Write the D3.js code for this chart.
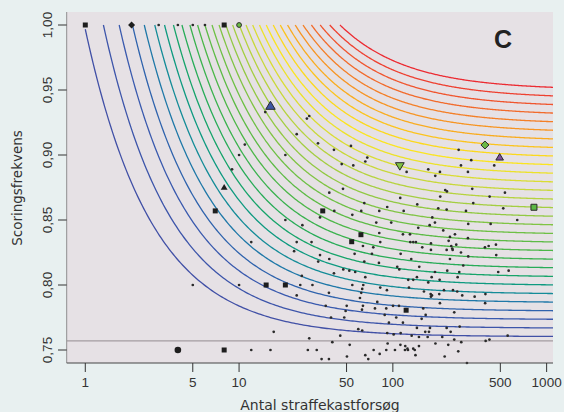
<!DOCTYPE html>
<html><head><meta charset="utf-8">
<script src="https://cdn.jsdelivr.net/npm/d3@7"></script>
<style>body{margin:0;background:#e8f0f0;}svg{display:block;}</style>
</head><body><svg id="c" width="564" height="412"></svg>
<script>
// ---------- data ----------
const xTicks = [1, 5, 10, 50, 100, 500, 1000];
const yTicks = [0.75, 0.80, 0.85, 0.90, 0.95, 1.00];
const leagueAverage = 0.757;
const panelLabel = "C";
const xTitle = "Antal straffekastforsøg";
const yTitle = "Scoringsfrekvens";
// prior (Beta) used by the iso-lines of shrunken scoring rate
const priorA = 7.89, priorB = 2.80;
// shrunken-rate level of each iso-line (read from the asymptotes)
const curveLevels = [0.7602, 0.7667, 0.7733, 0.7798, 0.7864, 0.7929, 0.7995, 0.8060, 0.8126, 0.8191,
  0.8257, 0.8322, 0.8387, 0.8453, 0.8518, 0.8584, 0.8649, 0.8715, 0.8780, 0.8846,
  0.8911, 0.8977, 0.9042, 0.9107, 0.9173, 0.9238, 0.9304, 0.9369, 0.9435, 0.9500];
const curveColors = ["#4150a6", "#3d55aa", "#3a5aae", "#2f63ad", "#1f78a8", "#148c98", "#0e9a80", "#16a46a", "#28ac58", "#3ab24e",
  "#4cb748", "#5dbb46", "#6ec045", "#80c444", "#92c943", "#a4ce41", "#b6d33e", "#c8d83a", "#dadd33", "#ece22a",
  "#fbe51f", "#fcd91c", "#fcc41d", "#f9ac1f", "#f79523", "#f47f27", "#f26a2b", "#f0552e", "#ee4030", "#ec2b32"];
// players: [attempts, scoring rate]
const playerDots = [
  [3,1],[4,1],[5,1],[6,1],
  [14.8,0.933],[28.6,0.930],[27.6,0.928],[23.7,0.916],[10.9,0.908],[32.6,0.909],[53.4,0.907],[41.4,0.904],[10,0.9],[20,0.9],[68.2,0.898],[66.2,0.895],[46.5,0.893],[55.3,0.892],[9,0.889],[47.4,0.874],[38.6,0.871],[65.2,0.863],[41.6,0.857],[62.3,0.857],[81.6,0.857],[33.6,0.852],[54.5,0.854],[78.0,0.848],[20,0.85],[25.8,0.846],[81.6,0.840],[63.9,0.830],[74.6,0.829],[12,0.833],[23.7,0.833],[29.6,0.833],[22.8,0.826],[56.4,0.824],[73.1,0.824],[33.6,0.823],[38.6,0.820],[32.7,0.818],[65.2,0.818],[81.2,0.817],[47.6,0.812],
  [267.8,0.904],[323.4,0.896],[277.3,0.892],[456.3,0.892],[122.9,0.887],[169.9,0.889],[202.4,0.887],[188.7,0.884],[307.8,0.887],[219.1,0.873],[224.8,0.872],[328.3,0.874],[535.7,0.871],[203.3,0.868],[111.7,0.867],[426,0.868],[144.1,0.862],[333.3,0.863],[91.9,0.860],[197.3,0.859],[223.8,0.858],[117.6,0.857],[298.8,0.857],[522.3,0.859],[180.4,0.852],[187.8,0.848],[97.6,0.848],[173.5,0.846],[309.2,0.847],[432.4,0.847],[643.9,0.850],[146.3,0.844],[212.7,0.842],[116.3,0.839],[129.2,0.839],[253.4,0.839],[235.1,0.837],[307.8,0.836],[230.6,0.834],[129.8,0.833],[135.7,0.833],[141.3,0.833],[176.9,0.832],[82.8,0.833],[258.4,0.831],[239.7,0.830],[155.3,0.829],[243.3,0.828],[223.8,0.827],[468.1,0.831],[419.7,0.830],[397.1,0.829],[176.9,0.827],[277.3,0.825],[244.8,0.827],[112.4,0.824],[309.2,0.822],[470.2,0.823],[131.7,0.820],[235.1,0.820],[148.5,0.814],[106.8,0.814],[110.1,0.812],[286.9,0.815],[566.2,0.811],[484.4,0.810],
  [5,0.8],[10,0.8],[25,0.8],[30,0.8],[25.6,0.807],[23.7,0.792],[16.8,0.764],[28.6,0.759],[12,0.75],[16,0.75],[28,0.75],[32,0.75],
  [41.4,0.809],[52.1,0.811],[56.9,0.810],[66.2,0.806],[54.5,0.800],[64.2,0.800],[63.2,0.797],[62.3,0.794],[61.1,0.790],[38.4,0.794],[79.2,0.787],[63.9,0.784],[36.6,0.784],[50.1,0.784],[63.0,0.781],[76.5,0.782],[49.3,0.780],[48.3,0.775],[39.6,0.775],[59.6,0.766],[63.2,0.765],[45.5,0.761],[40.4,0.756],[52.4,0.754],[75,0.75],[66.2,0.746],[69.2,0.743],[50.3,0.745],[82.1,0.747],[38.4,0.743],[34.4,0.743],
  [82.8,0.798],[91.5,0.796],[100.2,0.784],[109.6,0.784],[90.6,0.782],[88.5,0.777],[105.2,0.775],[94.3,0.771],[116.3,0.771],[91.9,0.763],[101.2,0.762],[112.4,0.763],[132.5,0.761],[147.8,0.760],[162.4,0.764],[171.7,0.764],[168.4,0.760],[143.4,0.767],[174.3,0.767],[223.8,0.767],[237.6,0.764],[272.0,0.768],[209.5,0.760],[250.7,0.758],[278.5,0.756],[163.4,0.777],[153.9,0.774],[250.7,0.779],[157.6,0.782],[202.4,0.786],[127.3,0.798],[159.3,0.795],[176.1,0.793],[179.6,0.792],[176.9,0.791],[200.3,0.793],[214.9,0.796],[246.0,0.796],[262.2,0.795],[282.6,0.792],[340.3,0.791],[125.9,0.804],[135.7,0.804],[143.4,0.806],[178.8,0.806],[169.9,0.802],[201.5,0.804],[263.8,0.806],[187.8,0.810],[225.8,0.811],[270.3,0.810],
  [92.5,0.755],[112,0.754],[120.4,0.753],[124.4,0.751],[119.9,0.750],[125.4,0.750],[135.7,0.751],[138.8,0.750],[147.8,0.753],[90.6,0.750],[103.2,0.750],[140.3,0.746],[189.2,0.755],[229.2,0.754],[266.2,0.749],[217.2,0.745],[303.3,0.740],
  [400,0.793],[398.2,0.786],[557.8,0.761],[424.7,0.758],[401.2,0.757]
];
// highlighted players
const markerN     = [1, 2, 8, 10, 16, 8, 7, 35, 62, 54, 15, 20, 8, 122, 4, 397, 495, 111, 827];
const markerP     = [1, 1, 1, 1, 0.9375, 0.875, 0.857, 0.857, 0.8387, 0.8333, 0.8, 0.8, 0.75, 0.7806, 0.75, 0.9077, 0.898, 0.8919, 0.8598];
const markerShape = ["square","diamond","square","circle","triangle","triangle","square","square","square","square","square","square","square","square","circle","diamond","triangle","triangleDown","square"];
const markerFill  = ["#1e1e1e","#1e1e1e","#1e1e1e","#6cbd45","#3f55a5","#1e1e1e","#1e1e1e","#1e1e1e","#1e1e1e","#1e1e1e","#1e1e1e","#1e1e1e","#1e1e1e","#1e1e1e","#1e1e1e","#6ab945","#7d4f9e","#80c342","#5cb846"];
const markerSize  = [5, 7, 5, 4.8, 9.5, 6.8, 5, 5, 5, 5, 5, 5, 5, 5, 6.6, 8, 7.6, 8.8, 6];

// ---------- layout ----------
const svg = d3.select("#c");
const L = 66.7, R = 553, T = 12, B = 363;
const x = d3.scaleLog().domain([0.757, 1100]).range([L, R]);
const y = d3.scaleLinear().domain([0.74, 1.01]).range([B, T]);

svg.append("rect").attr("width", 564).attr("height", 412).attr("fill", "#e8f0f0");
svg.append("rect").attr("x", L).attr("y", T).attr("width", R - L).attr("height", B - T).attr("fill", "#e6e1e5");
svg.append("clipPath").attr("id", "clip").append("rect")
  .attr("x", L).attr("y", T).attr("width", R - L).attr("height", B - T);
const plot = svg.append("g").attr("clip-path", "url(#clip)");

// iso-lines
const line = d3.line().x(d => x(d[0])).y(d => y(d[1]));
curveLevels.forEach((M, i) => {
  const c = M * (priorA + priorB) - priorA;
  const n0 = Math.max(1, c / (1 - M));
  const pts = d3.range(0, 241).map(k => {
    const n = n0 * Math.pow(1100 / n0, k / 240);
    return [n, Math.min(1, M + c / n)];
  });
  plot.append("path").attr("d", line(pts)).attr("fill", "none")
    .attr("stroke", curveColors[i]).attr("stroke-width", 1.3);
});

// league average
plot.append("line").attr("x1", L).attr("x2", R)
  .attr("y1", y(leagueAverage)).attr("y2", y(leagueAverage))
  .attr("stroke", "#a39ca1").attr("stroke-width", 1.2);

// dots
svg.append("g").selectAll("circle").data(playerDots).join("circle")
  .attr("cx", d => x(d[0])).attr("cy", d => y(d[1])).attr("r", 1.35)
  .attr("fill", "#2a2a2a");

// highlighted markers
function shapePath(s, w) {
  const h = w / 2;
  if (s === "square") return `M${-h},${-h}H${h}V${h}H${-h}Z`;
  if (s === "diamond") return `M0,${-h}L${h},0L0,${h}L${-h},0Z`;
  if (s === "triangle") { const t = w * 0.85; return `M0,${-t * 0.62}L${h},${t * 0.38}L${-h},${t * 0.38}Z`; }
  if (s === "triangleDown") { const t = w * 0.85; return `M0,${t * 0.62}L${h},${-t * 0.38}L${-h},${-t * 0.38}Z`; }
  return d3.arc()({innerRadius: 0, outerRadius: h, startAngle: 0, endAngle: 2 * Math.PI});
}
const mk = svg.append("g");
markerN.forEach((n, i) => {
  const colored = markerFill[i] !== "#1e1e1e";
  mk.append("path").attr("d", shapePath(markerShape[i], markerSize[i]))
    .attr("transform", `translate(${x(n)},${y(markerP[i])})`)
    .attr("fill", markerFill[i])
    .attr("stroke", colored ? "#2b2b2b" : "none").attr("stroke-width", colored ? 1 : 0);
});

// axes
svg.append("line").attr("x1", L).attr("x2", L).attr("y1", T).attr("y2", B)
  .attr("stroke", "#8f8f8f").attr("stroke-width", 1);
svg.append("line").attr("x1", L).attr("x2", R).attr("y1", B).attr("y2", B)
  .attr("stroke", "#444").attr("stroke-width", 1);

const fmt = d => d3.format(".2f")(d).replace(".", ",");
const ya = svg.append("g");
yTicks.forEach(t => {
  ya.append("line").attr("x1", 58).attr("x2", L).attr("y1", y(t)).attr("y2", y(t))
    .attr("stroke", "#333").attr("stroke-width", 1);
  ya.append("text").attr("transform", `translate(52,${y(t)}) rotate(-90)`)
    .attr("text-anchor", "middle").attr("font-family", "Liberation Sans, Arial, sans-serif")
    .attr("font-size", 13.5).attr("fill", "#333").text(fmt(t));
});
const xa = svg.append("g");
xTicks.forEach(t => {
  xa.append("line").attr("x1", x(t)).attr("x2", x(t)).attr("y1", B).attr("y2", 372)
    .attr("stroke", "#333").attr("stroke-width", 1);
  xa.append("text").attr("x", x(t)).attr("y", 386.7).attr("text-anchor", "middle")
    .attr("font-family", "Liberation Sans, Arial, sans-serif")
    .attr("font-size", 13.5).attr("fill", "#333").text(t);
});

svg.append("text").attr("x", 320).attr("y", 410).attr("text-anchor", "middle")
  .attr("font-family", "DejaVu Sans, sans-serif").attr("font-size", 14).attr("fill", "#333").text(xTitle);
svg.append("text").attr("transform", "translate(22,188) rotate(-90)").attr("text-anchor", "middle")
  .attr("font-family", "DejaVu Sans, sans-serif").attr("font-size", 13.5).attr("fill", "#333").text(yTitle);
svg.append("text").attr("x", 503).attr("y", 48.3).attr("text-anchor", "middle")
  .attr("font-family", "Liberation Sans, Arial, sans-serif").attr("font-weight", "bold")
  .attr("font-size", 25).attr("fill", "#222").text(panelLabel);
</script></body></html>
